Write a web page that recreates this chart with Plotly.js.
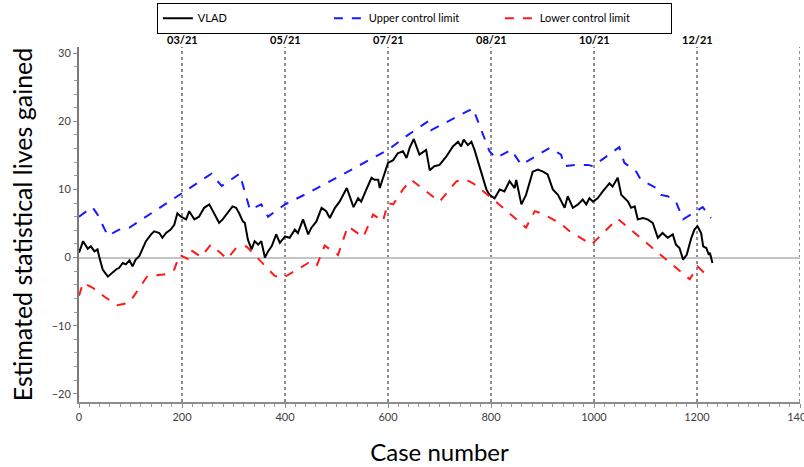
<!DOCTYPE html>
<html>
<head>
<meta charset="utf-8">
<script src="https://cdn.plot.ly/plotly-3.0.1.min.js"></script>
<style>html,body{margin:0;padding:0;background:#fff;}#chart{width:804px;height:467px;}</style>
</head>
<body>
<div id="chart"></div>
<script>
// VLAD series (case number, value)
const vladCases = [0,8,17,23,30,36,39,46,56,65,72,78,85,91,98,104,110,117,123,130,140,146,156,162,169,178,185,191,198,208,214,224,233,243,253,259,266,272,279,288,298,305,311,318,322,328,335,341,348,354,361,367,374,383,390,400,409,419,425,435,445,451,461,471,480,487,497,506,513,520,527,533,542,548,558,568,574,581,584,594,600,610,619,629,636,642,650,661,674,681,690,700,713,726,736,742,747,755,762,768,775,781,786,791,797,807,817,826,836,846,849,859,868,881,891,901,910,920,930,943,949,959,969,978,985,991,998,1007,1017,1024,1030,1036,1046,1053,1059,1066,1072,1079,1085,1095,1104,1114,1124,1133,1143,1153,1159,1166,1173,1180,1189,1195,1201,1208,1212,1218,1223,1225,1230];
const vladValues = [0.7,2.4,1.3,1.65,0.9,1.2,0.2,-1.75,-2.8,-2.2,-1.75,-1.5,-0.8,-1.0,-0.4,-1.3,-0.3,0.2,1.2,2.4,3.4,3.85,3.6,2.9,3.6,4.1,4.8,6.5,6.0,5.6,6.8,5.6,6.0,7.3,7.8,7.0,6.0,5.1,5.6,6.5,7.5,7.3,6.5,5.3,5.1,2.6,1.2,2.4,1.9,2.4,0.0,0.9,1.65,3.4,2.15,3.1,2.9,4.1,3.6,5.6,3.4,4.35,5.3,7.3,6.8,5.8,7.3,8.2,9.2,10.2,8.7,7.4,8.7,8.2,10.0,11.7,11.4,11.4,10.2,12.4,13.9,14.3,15.3,15.6,14.6,16.1,17.4,15.1,15.8,12.8,13.4,13.6,14.8,16.3,17.0,16.3,17.3,16.5,17.0,15.8,14.1,12.4,11.4,10.0,9.2,8.7,10.0,9.7,11.2,10.2,11.4,7.8,9.2,12.6,12.9,12.6,12.2,10.0,9.2,7.3,9.0,7.3,7.8,8.5,7.8,8.7,8.2,8.7,9.7,10.4,10.9,10.4,11.7,9.2,8.7,8.2,7.3,7.5,5.6,5.8,5.6,5.1,2.9,3.6,2.9,3.4,1.9,1.4,-0.3,0.4,2.9,4.1,4.6,3.6,1.65,1.4,0.4,0.7,-0.8];

// Upper control limit
const upperCases = [0,26,36,56,78,98,199,257,277,312,332,354,367,400,448,600,639,678,684,765,797,810,839,859,914,936,943,965,988,998,1049,1059,1082,1091,1104,1121,1130,1143,1159,1173,1192,1211,1227];
const upperValues = [6.0,7.4,6.3,3.2,4.1,4.4,9.4,12.3,10.5,12.3,7.0,7.8,6.0,7.8,9.6,15.8,18.0,20.0,18.7,21.9,15.6,14.6,15.8,13.6,16.1,15.1,13.4,13.6,13.6,13.4,16.2,13.9,12.6,11.4,10.9,10.2,9.2,9.0,8.2,5.6,6.5,7.4,5.8];

// Lower control limit
const lowerCases = [0,8,26,52,75,98,133,165,185,195,211,217,237,256,288,305,325,380,396,419,445,461,477,503,522,552,571,590,600,610,629,645,700,733,752,765,797,868,885,898,933,952,995,1046,1186,1201,1224];
const lowerValues = [-5.6,-3.7,-4.4,-5.9,-7.0,-6.6,-2.7,-2.5,-1.75,0.4,-0.2,1.1,0.1,1.9,-0.2,1.4,1.65,-2.7,-3.0,-2.0,-0.8,-1.3,1.75,0.4,4.6,3.0,6.3,5.3,8.0,7.8,10.0,11.4,8.2,11.2,11.4,10.9,9.0,4.4,6.8,6.5,5.1,3.9,1.9,5.7,-3.2,-1.3,-3.0];

// Month markers
const monthCases = [200,400,600,800,1000,1200];
const monthLabels = ["03/21","05/21","07/21","08/21","10/21","12/21"];
const markerLines = [200,400,600,800,1000,1200,1400];

const FONT = "Lato, 'Open Sans', sans-serif";

const traces = [
  {x: vladCases, y: vladValues, mode: 'lines', name: 'VLAD', line: {color: '#000000', width: 2}},
  {x: upperCases, y: upperValues, mode: 'lines', name: 'Upper control limit', line: {color: '#1a1aff', width: 2, dash: 'dash'}},
  {x: lowerCases, y: lowerValues, mode: 'lines', name: 'Lower control limit', line: {color: '#ff1a1a', width: 2, dash: 'dash'}}
];

const shapes = markerLines.map(v => ({
  type: 'line', xref: 'x', yref: 'paper', x0: v, x1: v, y0: 0, y1: 1,
  line: {color: '#444444', width: 1.2, dash: 'dot'}, layer: 'below'
}));

const annotations = monthCases.map((v, i) => ({
  x: v, y: 1, xref: 'x', yref: 'paper', yanchor: 'bottom', yshift: -1,
  text: '<b>' + monthLabels[i] + '</b>', showarrow: false,
  font: {family: FONT, size: 11, color: '#000000'}
}));

const layout = {
  width: 804, height: 467,
  margin: {l: 79, r: 4, t: 47, b: 65, autoexpand: false},
  paper_bgcolor: '#ffffff', plot_bgcolor: '#ffffff',
  font: {family: FONT, size: 11, color: '#404040'},
  showlegend: true,
  legend: {
    orientation: 'h', x: 0.108, xanchor: 'left', y: 1.125, yanchor: 'top',
    bordercolor: '#000000', borderwidth: 1, bgcolor: '#ffffff',
    font: {family: FONT, size: 11, color: '#000000'},
    entrywidth: 126, entrywidthmode: 'pixels', tracegroupgap: 0
  },
  xaxis: {
    range: [0, 1400], dtick: 200, tick0: 0, automargin: false,
    ticklabeloverflow: 'allow',
    showgrid: false, zeroline: false,
    showline: true, linecolor: '#8c8c8c', linewidth: 2,
    ticks: 'outside', ticklen: 4, tickcolor: '#8c8c8c', tickwidth: 1,
    minor: {dtick: 20, ticks: 'outside', ticklen: 3, tickcolor: '#9a9a9a', showgrid: false},
    tickfont: {family: FONT, size: 11, color: '#404040'},
    title: {text: 'Case number', font: {family: FONT, size: 24, color: '#000000'}, standoff: 22}
  },
  yaxis: {
    range: [-21.2, 30.9], dtick: 10, tick0: 0, automargin: false,
    showgrid: false,
    zeroline: true, zerolinecolor: '#c4c4c4', zerolinewidth: 2,
    showline: true, linecolor: '#7a7a7a', linewidth: 2,
    ticks: 'outside', ticklen: 4, tickcolor: '#8c8c8c', tickwidth: 1,
    minor: {dtick: 2, ticks: 'outside', ticklen: 3, tickcolor: '#9a9a9a', showgrid: false},
    tickfont: {family: FONT, size: 11, color: '#404040'},
    title: {text: 'Estimated statistical lives gained', font: {family: FONT, size: 25, color: '#000000'}, standoff: 12}
  },
  shapes: shapes,
  annotations: annotations
};

Plotly.newPlot('chart', traces, layout, {displayModeBar: false, staticPlot: true});
</script>
</body>
</html>
